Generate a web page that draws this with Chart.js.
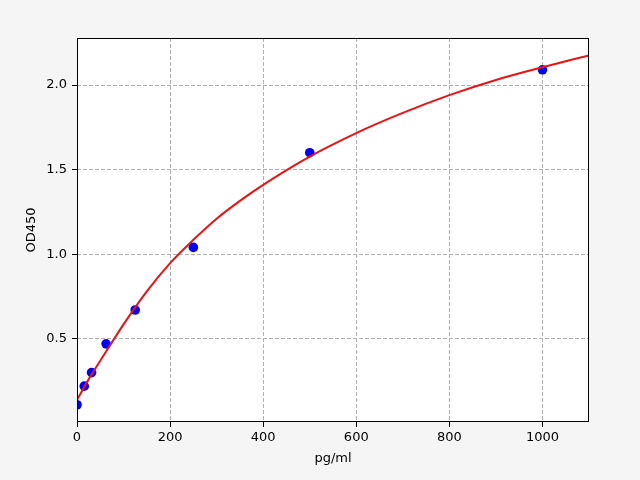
<!DOCTYPE html>
<html lang="en">
  <head>
    <meta charset="UTF-8" />
    <title>Standard Curve</title>
    <script src="https://cdn.jsdelivr.net/npm/chart.js"></script>
    <style>
      html, body {
        margin: 0;
        padding: 0;
        background-color: #f5f5f5;
      }
      #wrap {
        width: 640px;
        height: 480px;
      }
    </style>
  </head>
  <body>
    <div id="wrap"><canvas id="curveChart" width="640" height="480"></canvas></div>
    <script>
      // measured standards
      const concentrations = [0, 15.6, 31.25, 62.5, 125, 250, 500, 1000];
      const odValues = [0.11, 0.22, 0.30, 0.47, 0.67, 1.04, 1.60, 2.09];

      // fitted curve
      const fitX = [0, 25, 50, 100, 150, 200, 250, 300, 350, 400, 500, 600, 700, 800, 900, 1000, 1100];
      const fitY = [0.139, 0.26, 0.37, 0.585, 0.78, 0.947, 1.085, 1.21, 1.315, 1.41, 1.577, 1.716, 1.835, 1.94, 2.03, 2.105, 2.175];

      const xTicks = [0, 200, 400, 600, 800, 1000];
      const yTicks = [0.5, 1.0, 1.5, 2.0];

      const font = { family: "DejaVu Sans", size: 13 };

      // white plot area + black frame like matplotlib
      const framePlugin = {
        id: "frame",
        beforeDraw(chart) {
          const { ctx, chartArea: a } = chart;
          ctx.save();
          ctx.fillStyle = "#f5f5f5";
          ctx.fillRect(0, 0, chart.width, chart.height);
          ctx.fillStyle = "#ffffff";
          ctx.fillRect(a.left, a.top, a.right - a.left, a.bottom - a.top);
          ctx.restore();
        },
        afterDraw(chart) {
          const { ctx, chartArea: a } = chart;
          ctx.save();
          ctx.strokeStyle = "#000000";
          ctx.lineWidth = 1;
          ctx.strokeRect(a.left + 0.5, a.top + 0.5, a.right - a.left - 1, a.bottom - a.top - 1);
          ctx.restore();
        },
      };

      new Chart(document.getElementById("curveChart"), {
        type: "scatter",
        data: {
          datasets: [
            {
              type: "line",
              data: fitX.map((x, i) => ({ x: x, y: fitY[i] })),
              borderColor: "#ee1111",
              borderWidth: 2,
              pointRadius: 0,
              cubicInterpolationMode: "monotone",
              fill: false,
              order: 0,
            },
            {
              data: concentrations.map((x, i) => ({ x: x, y: odValues[i] })),
              backgroundColor: "#0000ff",
              borderColor: "#0000ff",
              pointRadius: 4.8,
              borderWidth: 0,
              order: 1,
            },
          ],
        },
        options: {
          responsive: false,
          animation: false,
          devicePixelRatio: 1,
          layout: { padding: { left: 0, right: 51, top: 38, bottom: 0 } },
          plugins: {
            legend: { display: false },
            tooltip: { enabled: false },
          },
          scales: {
            x: {
              type: "linear",
              min: 0,
              max: 1100,
              afterBuildTicks: (s) => { s.ticks = xTicks.map((v) => ({ value: v })); },
              afterFit: (s) => { s.height = 58; },
              grid: {
                color: "#b0b0b0",
                tickColor: "#000000",
                tickLength: 5,
                tickBorderDash: [],
              },
              border: { display: false, dash: [4, 2] },
              ticks: {
                color: "#000000",
                font: font,
                padding: 3,
                maxRotation: 0,
                callback: (v) => String(v),
              },
              title: {
                display: true,
                text: "pg/ml",
                color: "#000000",
                font: font,
                padding: { top: 0, bottom: 14 },
              },
            },
            y: {
              type: "linear",
              min: 0.008,
              max: 2.278,
              afterBuildTicks: (s) => { s.ticks = yTicks.map((v) => ({ value: v })); },
              afterFit: (s) => { s.width = 77; },
              grid: {
                color: "#b0b0b0",
                tickColor: "#000000",
                tickLength: 5,
                tickBorderDash: [],
              },
              border: { display: false, dash: [4, 2] },
              ticks: {
                color: "#000000",
                font: font,
                padding: 5,
                callback: (v) => v.toFixed(1),
              },
              title: {
                display: true,
                text: "OD450",
                color: "#000000",
                font: font,
                padding: { top: 24, bottom: 0 },
              },
            },
          },
        },
        plugins: [framePlugin],
      });
    </script>
  </body>
</html>
